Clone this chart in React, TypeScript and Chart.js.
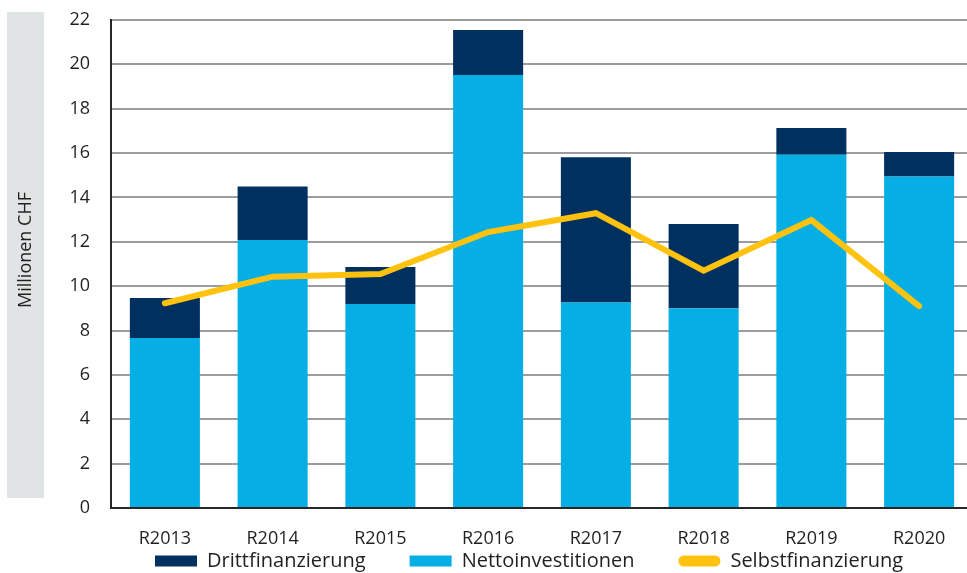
import React, { useEffect, useRef } from "react";
import { Chart, registerables } from "chart.js";

Chart.register(...registerables);

const categories = ["R2013", "R2014", "R2015", "R2016", "R2017", "R2018", "R2019", "R2020"];
const nettoinvestitionen = [7.66, 12.08, 9.2, 19.52, 9.26, 9.0, 15.93, 14.94];
const drittfinanzierung = [1.81, 2.41, 1.67, 2.03, 6.55, 3.8, 1.2, 1.11];
const selbstfinanzierung = [9.23, 10.43, 10.55, 12.44, 13.29, 10.7, 12.98, 9.1];
const legendOrder = ["Drittfinanzierung", "Nettoinvestitionen", "Selbstfinanzierung"];
const yTitle = "Millionen CHF";
const yMin = 0;
const yMax = 22;
const yStep = 2;

const FONT = "'Open Sans', 'Noto Sans', sans-serif";
const DARK = "#003060";
const LIGHT = "#05AEE4";
const YELLOW = "#FFC20E";
const TEXT = "#231F20";

const yTitlePlugin = {
  id: "yTitleBox",
  beforeDraw(chart: any) {
    const ctx = chart.ctx;
    ctx.save();
    ctx.fillStyle = "#E1E4E5";
    ctx.fillRect(7, 12, 37, 486);
    ctx.translate(25.5, 250);
    ctx.rotate(-Math.PI / 2);
    ctx.fillStyle = TEXT;
    ctx.font = `18px ${FONT}`;
    ctx.textAlign = "center";
    ctx.textBaseline = "middle";
    ctx.fillText(yTitle, 0, 0);
    ctx.restore();
  },
};

// Lift the legend so that it sits tight beneath the category labels
const legendPlacePlugin = {
  id: "legendPlace",
  afterLayout(chart: any) {
    const lg = chart.legend;
    if (!lg) return;
    lg.top = chart.chartArea.bottom - 1;
    lg.bottom = chart.height;
    lg.height = lg.bottom - lg.top;
  },
};

export default function App() {
  const canvasRef = useRef<HTMLCanvasElement | null>(null);

  useEffect(() => {
    const canvas = canvasRef.current;
    if (!canvas) return;
    const chart = new Chart(canvas, {
      type: "bar",
      data: {
        labels: categories,
        datasets: [
          {
            type: "bar",
            label: "Nettoinvestitionen",
            data: nettoinvestitionen,
            backgroundColor: LIGHT,
            borderWidth: 0,
            barPercentage: 0.65,
            categoryPercentage: 1,
            stack: "bars",
            order: 1,
          },
          {
            type: "bar",
            label: "Drittfinanzierung",
            data: drittfinanzierung,
            backgroundColor: DARK,
            borderWidth: 0,
            barPercentage: 0.65,
            categoryPercentage: 1,
            stack: "bars",
            order: 1,
          },
          {
            type: "line",
            label: "Selbstfinanzierung",
            data: selbstfinanzierung,
            borderColor: YELLOW,
            backgroundColor: YELLOW,
            borderWidth: 6,
            borderCapStyle: "round",
            borderJoinStyle: "miter",
            pointRadius: 0,
            pointHoverRadius: 0,
            fill: false,
            tension: 0,
            stack: "line",
            order: 0,
          } as any,
        ],
      },
      options: {
        responsive: false,
        animation: false,
        devicePixelRatio: 1,
        layout: { padding: { top: 20, left: 0, right: 0, bottom: 0 } },
        plugins: {
          tooltip: { enabled: false },
          title: { display: false },
          legend: {
            display: true,
            position: "bottom",
            align: "start",
            fullSize: false,
            maxHeight: 20,
            labels: {
              boxWidth: 42,
              boxHeight: 11,
              padding: 44,
              color: TEXT,
              useBorderRadius: true,
              font: { family: FONT, size: 20 },
              sort: (a: any, b: any) => legendOrder.indexOf(a.text) - legendOrder.indexOf(b.text),
              generateLabels: (ch: any) => {
                const items = Chart.defaults.plugins.legend.labels.generateLabels(ch);
                return items.map((it: any) => {
                  if (it.text === "Selbstfinanzierung") {
                    return { ...it, fillStyle: YELLOW, strokeStyle: YELLOW, lineWidth: 0, borderRadius: 5.5 };
                  }
                  return { ...it, lineWidth: 0, borderRadius: 0 };
                });
              },
            },
          },
        },
        scales: {
          x: {
            stacked: true,
            offset: true,
            grid: { display: false, drawTicks: false },
            border: { display: true, color: "#2A2526", width: 2 },
            ticks: { color: TEXT, font: { family: FONT, size: 18 }, padding: 20, maxRotation: 0 },
            afterFit: (scale: any) => {
              scale.height = 45;
              scale.paddingLeft = 0;
              scale.paddingRight = 0;
            },
          },
          y: {
            stacked: true,
            min: yMin,
            max: yMax,
            grid: { color: "#9A9C9F", lineWidth: 2, drawTicks: false },
            border: { display: true, color: "#2A2526", width: 2 },
            ticks: { stepSize: yStep, color: TEXT, font: { family: FONT, size: 18 }, padding: 21 },
            afterFit: (scale: any) => {
              scale.width = 111;
              scale.paddingTop = 0;
              scale.paddingBottom = 0;
            },
          },
        },
      },
      plugins: [yTitlePlugin, legendPlacePlugin],
    });
    return () => chart.destroy();
  }, []);

  return (
    <div style={{ position: "fixed", left: 0, top: 0, width: 967, height: 573, overflow: "hidden", background: "#fff" }}>
      <canvas ref={canvasRef} width={973} height={573} style={{ display: "block", width: 973, height: 573 }} />
    </div>
  );
}
